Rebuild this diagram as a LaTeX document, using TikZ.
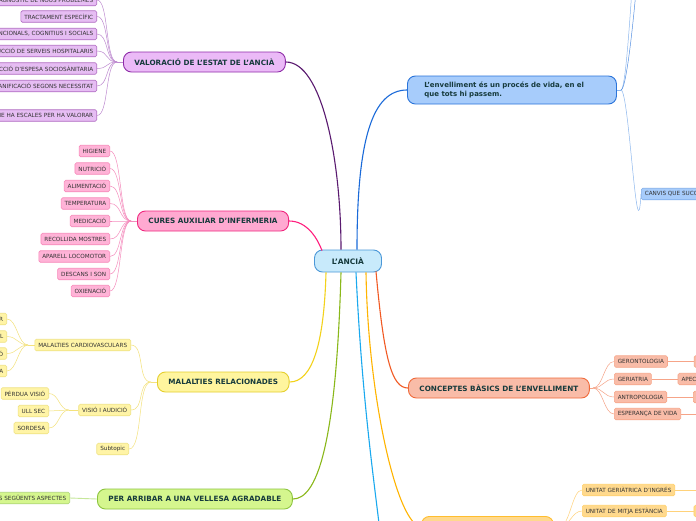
\documentclass[tikz,border=0pt]{standalone}
\usepackage{fontspec}
\setmainfont{DejaVu Sans}
\usetikzlibrary{positioning, calc}
\usepackage{xcolor}
\definecolor{ink}{HTML}{163A3C}
\definecolor{leafink}{HTML}{333333}
\definecolor{rootfill}{HTML}{C8EAFB}
\definecolor{rootline}{HTML}{4B98D8}
\definecolor{plum}{HTML}{5A1A70}
\definecolor{plumfill}{HTML}{EBBAF7}
\definecolor{plumline}{HTML}{8E2CA8}
\definecolor{plumleaf}{HTML}{E6BDF3}
\definecolor{plumthin}{HTML}{BE8AD0}
\definecolor{rose}{HTML}{FF1F7E}
\definecolor{rosefill}{HTML}{FFA9D1}
\definecolor{roseline}{HTML}{F0287F}
\definecolor{roseleaf}{HTML}{FFB3D7}
\definecolor{rosethin}{HTML}{F58CBD}
\definecolor{lemon}{HTML}{F3D21B}
\definecolor{lemonfill}{HTML}{FFF59E}
\definecolor{lemonline}{HTML}{E5CF2E}
\definecolor{lemonleaf}{HTML}{FFF4A6}
\definecolor{lemonthin}{HTML}{F4E27C}
\definecolor{lime}{HTML}{8AB81A}
\definecolor{limefill}{HTML}{D5F68E}
\definecolor{limeline}{HTML}{8CC43E}
\definecolor{limethin}{HTML}{C6E79A}
\definecolor{sky}{HTML}{1A6AD9}
\definecolor{skyfill}{HTML}{A7CCFB}
\definecolor{skyline}{HTML}{2A74DA}
\definecolor{skythin}{HTML}{8DB7EE}
\definecolor{cyanline}{HTML}{1AA9EF}
\definecolor{coral}{HTML}{F15A24}
\definecolor{coralfill}{HTML}{F9BCA8}
\definecolor{coralline}{HTML}{F06A3A}
\definecolor{coralthin}{HTML}{F6A488}
\definecolor{amber}{HTML}{FFB400}
\definecolor{amberfill}{HTML}{FFD98D}
\definecolor{amberline}{HTML}{FFBE2E}
\definecolor{amberthin}{HTML}{FFD27A}

\begin{document}
\begin{tikzpicture}[x=1pt, y=-1pt,
    topic/.style={rectangle, rounded corners=8pt, line width=0.9pt,
                  minimum height=20pt, inner xsep=11pt, inner ysep=0pt,
                  font=\fontsize{7.25}{8.7}\selectfont\bfseries, text=ink},
    leaf/.style={rectangle, rounded corners=1.5pt, line width=0.6pt,
                 minimum height=11.5pt, inner xsep=3.5pt, inner ysep=0pt,
                 font=\fontsize{5.7}{6.5}\selectfont, text=leafink},
    trunk/.style={line width=1.1pt},
    twig/.style={line width=0.5pt}
]
\clip (0,0) rectangle (696,520);
\fill[white] (0,0) rectangle (696,520);

\node[topic, fill=rootfill, draw=rootline, minimum width=67pt, minimum height=22pt,
      font=\fontsize{7.5}{9}\selectfont\bfseries] (root) at (348,261) {L'ANCIÀ};
\coordinate (root_cures) at ($(root.north)+(-26,1)$);
\coordinate (root_valor) at ($(root.north)+(-7,0)$);
\coordinate (root_envell) at ($(root.north)+(9,0)$);
\coordinate (root_malal) at ($(root.south)+(-22,0)$);
\coordinate (root_vell) at ($(root.south)+(-7,0)$);
\coordinate (root_down) at ($(root.south)+(8,0)$);
\coordinate (root_units) at ($(root.south)+(18,0)$);
\coordinate (root_concept) at ($(root.south)+(28,-1)$);

% valoracio
\node[topic, fill=plumfill, draw=plumline, anchor=west] (valor) at (123,62) {VALORACIÓ DE L'ESTAT DE L'ANCIÀ};
\coordinate (valor_hub) at (117,62);
\draw[twig, plumthin] (valor.west) -- (valor_hub);
\foreach \y/\txt [count=\i] in {0/DIAGNÒSTIC DE NOUS PROBLEMES, 16.5/TRACTAMENT ESPECÍFIC,
    34/{ASPECTES FUNCIONALS, COGNITIUS I SOCIALS}, 51/REDUCCIÓ DE SERVEIS HOSPITALARIS,
    68.5/REDUCCIÓ D'ESPESA SOCIOSÀNITARIA, 86/PLANIFICACIÓ SEGONS NECESSITAT,
    115.5/HI NE HA ESCALES PER HA VALORAR} {
  \node[leaf, fill=plumleaf, draw=plumline!70, anchor=east] (valor_\i) at (97,\y) {\txt};
  \draw[twig, plumthin] (valor_hub) .. controls +(-12,0) and +(12,0) .. (valor_\i.east);
}
\draw[trunk, plum] (valor.east) .. controls (322,62) and (341,160) .. (root_valor);

% cures
\node[topic, fill=rosefill, draw=roseline, anchor=west] (cures) at (137,221) {CURES AUXILIAR D'INFERMERIA};
\coordinate (cures_hub) at (131,221);
\draw[twig, rosethin] (cures.west) -- (cures_hub);
\foreach \y/\txt [count=\i] in {151/HIGIENE, 168.5/NUTRICIÓ, 186/ALIMENTACIÓ, 203.5/TEMPERATURA,
    221/MEDICACIÓ, 239/RECOLLIDA MOSTRES, 256.5/APARELL LOCOMOTOR, 274/DESCANS I SON, 291/OXIENACIÓ} {
  \node[leaf, fill=roseleaf, draw=roseline!55, anchor=east] (cures_\i) at (110,\y) {\txt};
  \draw[twig, rosethin] (cures_hub) .. controls +(-12,0) and +(12,0) .. (cures_\i.east);
}
\draw[trunk, rose] (cures.east) .. controls (308,221) and (318,240) .. (root_cures);

% malalties
\node[topic, fill=lemonfill, draw=lemonline, anchor=west] (malal) at (157,382) {MALALTIES RELACIONADES};
\coordinate (malal_hub) at (151,382);
\draw[twig, lemonthin] (malal.west) -- (malal_hub);
\node[leaf, fill=lemonleaf, draw=lemonline!60, anchor=east] (cardio) at (131,345) {MALALTIES CARDIOVASCULARS};
\node[leaf, fill=lemonleaf, draw=lemonline!60, anchor=east] (visio) at (131,410) {VISIÓ I AUDICIÓ};
\node[leaf, fill=lemonleaf, draw=lemonline!60, anchor=east] (subtopic) at (129,449) {Subtopic};
\foreach \n in {cardio, visio, subtopic}
  \draw[twig, lemonthin] (malal_hub) .. controls +(-14,0) and +(14,0) .. (\n.east);
\coordinate (cardio_hub) at (28,345);
\draw[twig, lemonthin] (cardio.west) -- (cardio_hub);
\foreach \y/\txt [count=\i] in {319/FIBRIL·LACIÓ AURICULAR, 336.5/ACCIDENT VASCULAR CEREBRAL,
    353.5/HIPERTENSIÓ, 371/INSUFICIÈNCIA CARDÍACA} {
  \node[leaf, fill=lemonleaf, draw=lemonline!60, anchor=east] (cardio_\i) at (7,\y) {\txt};
  \draw[twig, lemonthin] (cardio_hub) .. controls +(-10,0) and +(10,0) .. (cardio_\i.east);
}
\coordinate (visio_hub) at (69,410);
\draw[twig, lemonthin] (visio.west) -- (visio_hub);
\foreach \y/\txt [count=\i] in {393.5/PÈRDUA VISIÓ, 411/ULL SEC, 428/SORDESA} {
  \node[leaf, fill=lemonleaf, draw=lemonline!60, anchor=east] (visio_\i) at (49,\y) {\txt};
  \draw[twig, lemonthin] (visio_hub) .. controls +(-10,0) and +(10,0) .. (visio_\i.east);
}
\draw[trunk, lemon] (root_malal) .. controls (324,345) and (312,382) .. (malal.east);

% vellesa
\node[topic, fill=limefill, draw=limeline, anchor=west] (vell) at (97,499) {PER ARRIBAR A UNA VELLESA AGRADABLE};
\node[leaf, fill=limefill, draw=limeline!70, anchor=east] (aspectes) at (70,498) {TENIR EN COMPTE ELS SEGÜENTS ASPECTES};
\draw[twig, limethin, line width=0.9pt] (vell.west) -- (aspectes.east);
\draw[trunk, lime] (root_vell) .. controls (336,450) and (316,499) .. (vell.east);

% envelliment
\node[topic, fill=skyfill, draw=skyline, anchor=west, align=left, text width=175pt,
      inner xsep=17pt, minimum height=28pt, font=\fontsize{7}{8.7}\selectfont\bfseries] (envell) at (407,90)
      {L'envelliment és un procés de vida, en el\\que tots hi passem.};
\coordinate (envell_hub) at (621,90);
\draw[twig, skythin] (envell.east) -- (envell_hub);
\node[leaf, fill=skyfill, draw=skyline!60, anchor=west] (canvis) at (641,194) {CANVIS QUE SUCCEEIXEN AMB L'EDAT};
\coordinate (envell_up1) at (634,-40);
\coordinate (envell_up2) at (640,-60);
\draw[twig, skythin] (envell_hub) .. controls +(8,0) and +(-4,70) .. (canvis.west);
\draw[twig, skythin] (envell_hub) .. controls +(5,0) and +(-3,40) .. (envell_up1);
\draw[twig, skyline!80] (envell_hub) .. controls +(6,0) and +(-4,60) .. (envell_up2);
\draw[trunk, sky] (root_envell) .. controls (357,140) and (372,90) .. (envell.west);

% fil cap avall
\coordinate (down_end) at (381,540);
\draw[trunk, cyanline] (root_down) .. controls (362,400) and (374,480) .. (down_end);

% conceptes
\node[topic, fill=coralfill, draw=coralline, anchor=west] (concept) at (408,388) {CONCEPTES BÀSICS DE L'ENVELLIMENT};
\coordinate (concept_hub) at (593,388);
\draw[twig, coralthin] (concept.east) -- (concept_hub);
\node[leaf, fill=coralfill, draw=coralline!60, anchor=west] (geronto) at (614,361.5) {GERONTOLOGIA};
\node[leaf, fill=coralfill, draw=coralline!60, anchor=west] (geria) at (614,379) {GERIATRIA};
\node[leaf, fill=coralfill, draw=coralline!60, anchor=west] (antropo) at (614,397) {ANTROPOLOGIA};
\node[leaf, fill=coralfill, draw=coralline!60, anchor=west] (esper) at (614,414) {ESPERANÇA DE VIDA};
\foreach \n in {geronto, geria, antropo, esper}
  \draw[twig, coralthin] (concept_hub) .. controls +(10,0) and +(-10,0) .. (\n.west);
\node[leaf, fill=coralfill, draw=coralline!60, minimum width=40pt, right=26pt of geronto] (geronto_def) {};
\node[leaf, fill=coralfill, draw=coralline!60, right=26pt of geria] (geria_def) {APECTES MÈDICS};
\node[leaf, fill=coralfill, draw=coralline!60, minimum width=40pt, right=26pt of antropo] (antropo_def) {};
\coordinate[right=26pt of esper] (esper_def);
\draw[twig, coralthin] (geronto) -- (geronto_def);
\draw[twig, coralthin] (geria) -- (geria_def);
\draw[twig, coralthin] (antropo) -- (antropo_def);
\draw[twig, coralthin] (esper) -- (esper_def);
\draw[trunk, coral] (root_concept) .. controls (384,360) and (392,388) .. (concept.west);

% unitats
\node[topic, fill=amberfill, draw=amberline, anchor=north west, minimum width=132pt] (units) at (421,516) {};
\coordinate (units_hub) at (560,526);
\node[leaf, fill=amberfill, draw=amberline!70, anchor=west] (ugi) at (582,490) {UNITAT GERIÀTRICA D'INGRÉS};
\node[leaf, fill=amberfill, draw=amberline!70, anchor=west] (ume) at (582,511) {UNITAT DE MITJA ESTÀNCIA};
\foreach \n in {ugi, ume}
  \draw[twig, amberthin] (units_hub) .. controls +(10,0) and +(-10,0) .. (\n.west);
\coordinate[right=27pt of ugi] (ugi_def);
\node[leaf, fill=amberfill, draw=amberline!70, minimum width=40pt, right=27pt of ume] (ume_def) {};
\draw[twig, amberthin] (ugi) -- (ugi_def);
\draw[twig, amberthin] (ume) -- (ume_def);
\draw[trunk, amber] (root_units) .. controls (368,400) and (398,526) .. (units.west);
\end{tikzpicture}
\end{document}
